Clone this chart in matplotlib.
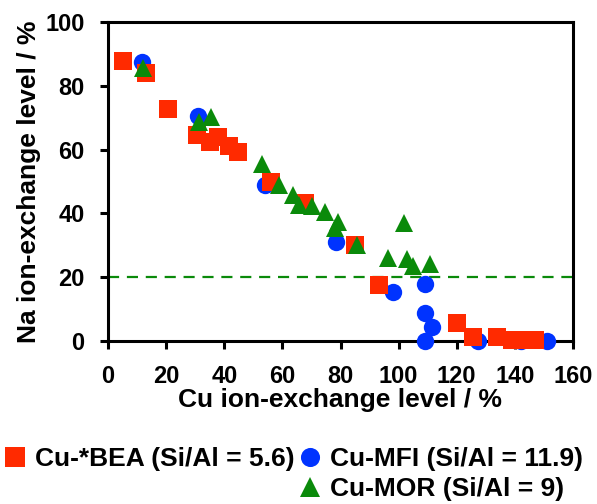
import numpy as np
import matplotlib
matplotlib.use("Agg")
import matplotlib.pyplot as plt
from matplotlib.lines import Line2D

# Cu-*BEA (Si/Al = 5.6)
bea_x = [5.2, 13, 20.6, 30.6, 35.1, 37.9, 41.6, 44.7, 56, 67.8, 85, 93.2,
         120, 125.5, 134, 139, 143.5, 147]
bea_y = [87.8, 84, 72.8, 64.7, 62.5, 64, 61.2, 59.4, 50, 43.4, 30, 17.5,
         5.6, 1.2, 1.2, 0.2, 0.2, 0.2]

# Cu-MFI (Si/Al = 11.9)
mfi_x = [11.7, 31, 54, 78.5, 98, 109, 109, 111.5, 109, 127.3, 142, 151]
mfi_y = [87.5, 70.6, 48.8, 31, 15.3, 18, 8.7, 4.4, 0, 0, 0, 0]

# Cu-MOR (Si/Al = 9)
mor_x = [12, 31.3, 35.4, 53, 58.8, 63.7, 65.7, 70.2, 74.7, 79.1, 78.1, 85.7,
         96.5, 102, 103, 105, 110.8]
mor_y = [85.6, 68.8, 70.3, 55.6, 49, 45.9, 42.5, 42.2, 40.3, 37.2, 35.3, 30,
         26, 37, 25.6, 23.4, 24]

grenze = 20  # gestrichelte Linie

ROT = "#FF2A00"
BLAU = "#0033FF"
GRUEN = "#0A8A0A"

plt.rcParams.update({"font.family": ["Liberation Sans", "DejaVu Sans"],
                     "font.weight": "bold", "font.size": 17})

fig = plt.figure(figsize=(5.97, 5.04), dpi=100)
ax = fig.add_axes([108 / 597, 163 / 504, 465 / 597, 319 / 504])

ax.axhline(grenze, color=GRUEN, lw=1.6, dashes=(5, 3.5), zorder=1)

h_mfi, = ax.plot(mfi_x, mfi_y, "o", color=BLAU, ms=12.5, mew=0,
                 clip_on=False, zorder=3, label="Cu-MFI (Si/Al = 11.9)")
h_bea, = ax.plot(bea_x, bea_y, "s", color=ROT, ms=12.5, mew=0,
                 clip_on=False, zorder=4, label="Cu-*BEA (Si/Al = 5.6)")
h_mor, = ax.plot(mor_x, mor_y, "^", color=GRUEN, ms=13.5, mew=0,
                 clip_on=False, zorder=5, label="Cu-MOR (Si/Al = 9)")

ax.set_xlim(0, 160)
ax.set_ylim(0, 100)
ax.set_xticks(np.arange(0, 161, 20))
ax.set_yticks(np.arange(0, 101, 20))
for s in ax.spines.values():
    s.set_linewidth(2.2)
ax.tick_params(direction="out", length=6, width=2.2, labelsize=17)
ax.tick_params(axis="y", pad=11)
ax.tick_params(axis="x", pad=11)

ax.set_xlabel("Cu ion-exchange level / %", fontweight="bold", fontsize=19,
              labelpad=0)
ax.set_ylabel("Na ion-exchange level / %", fontweight="bold", fontsize=19,
              labelpad=3)

leer = Line2D([], [], linestyle="none", marker="none")
fig.legend([h_bea, leer, h_mfi, h_mor],
           [h_bea.get_label(), "", h_mfi.get_label(), h_mor.get_label()],
           ncol=2, loc="upper left", bbox_to_anchor=(4 / 597, 1 - 447 / 504),
           frameon=False, borderpad=0, handlelength=0.8, handletextpad=0.36,
           columnspacing=0.2, labelspacing=0.24, borderaxespad=0,
           markerscale=1.1, prop={"weight": "bold", "size": 19})

fig.savefig("out.png", dpi=100)
